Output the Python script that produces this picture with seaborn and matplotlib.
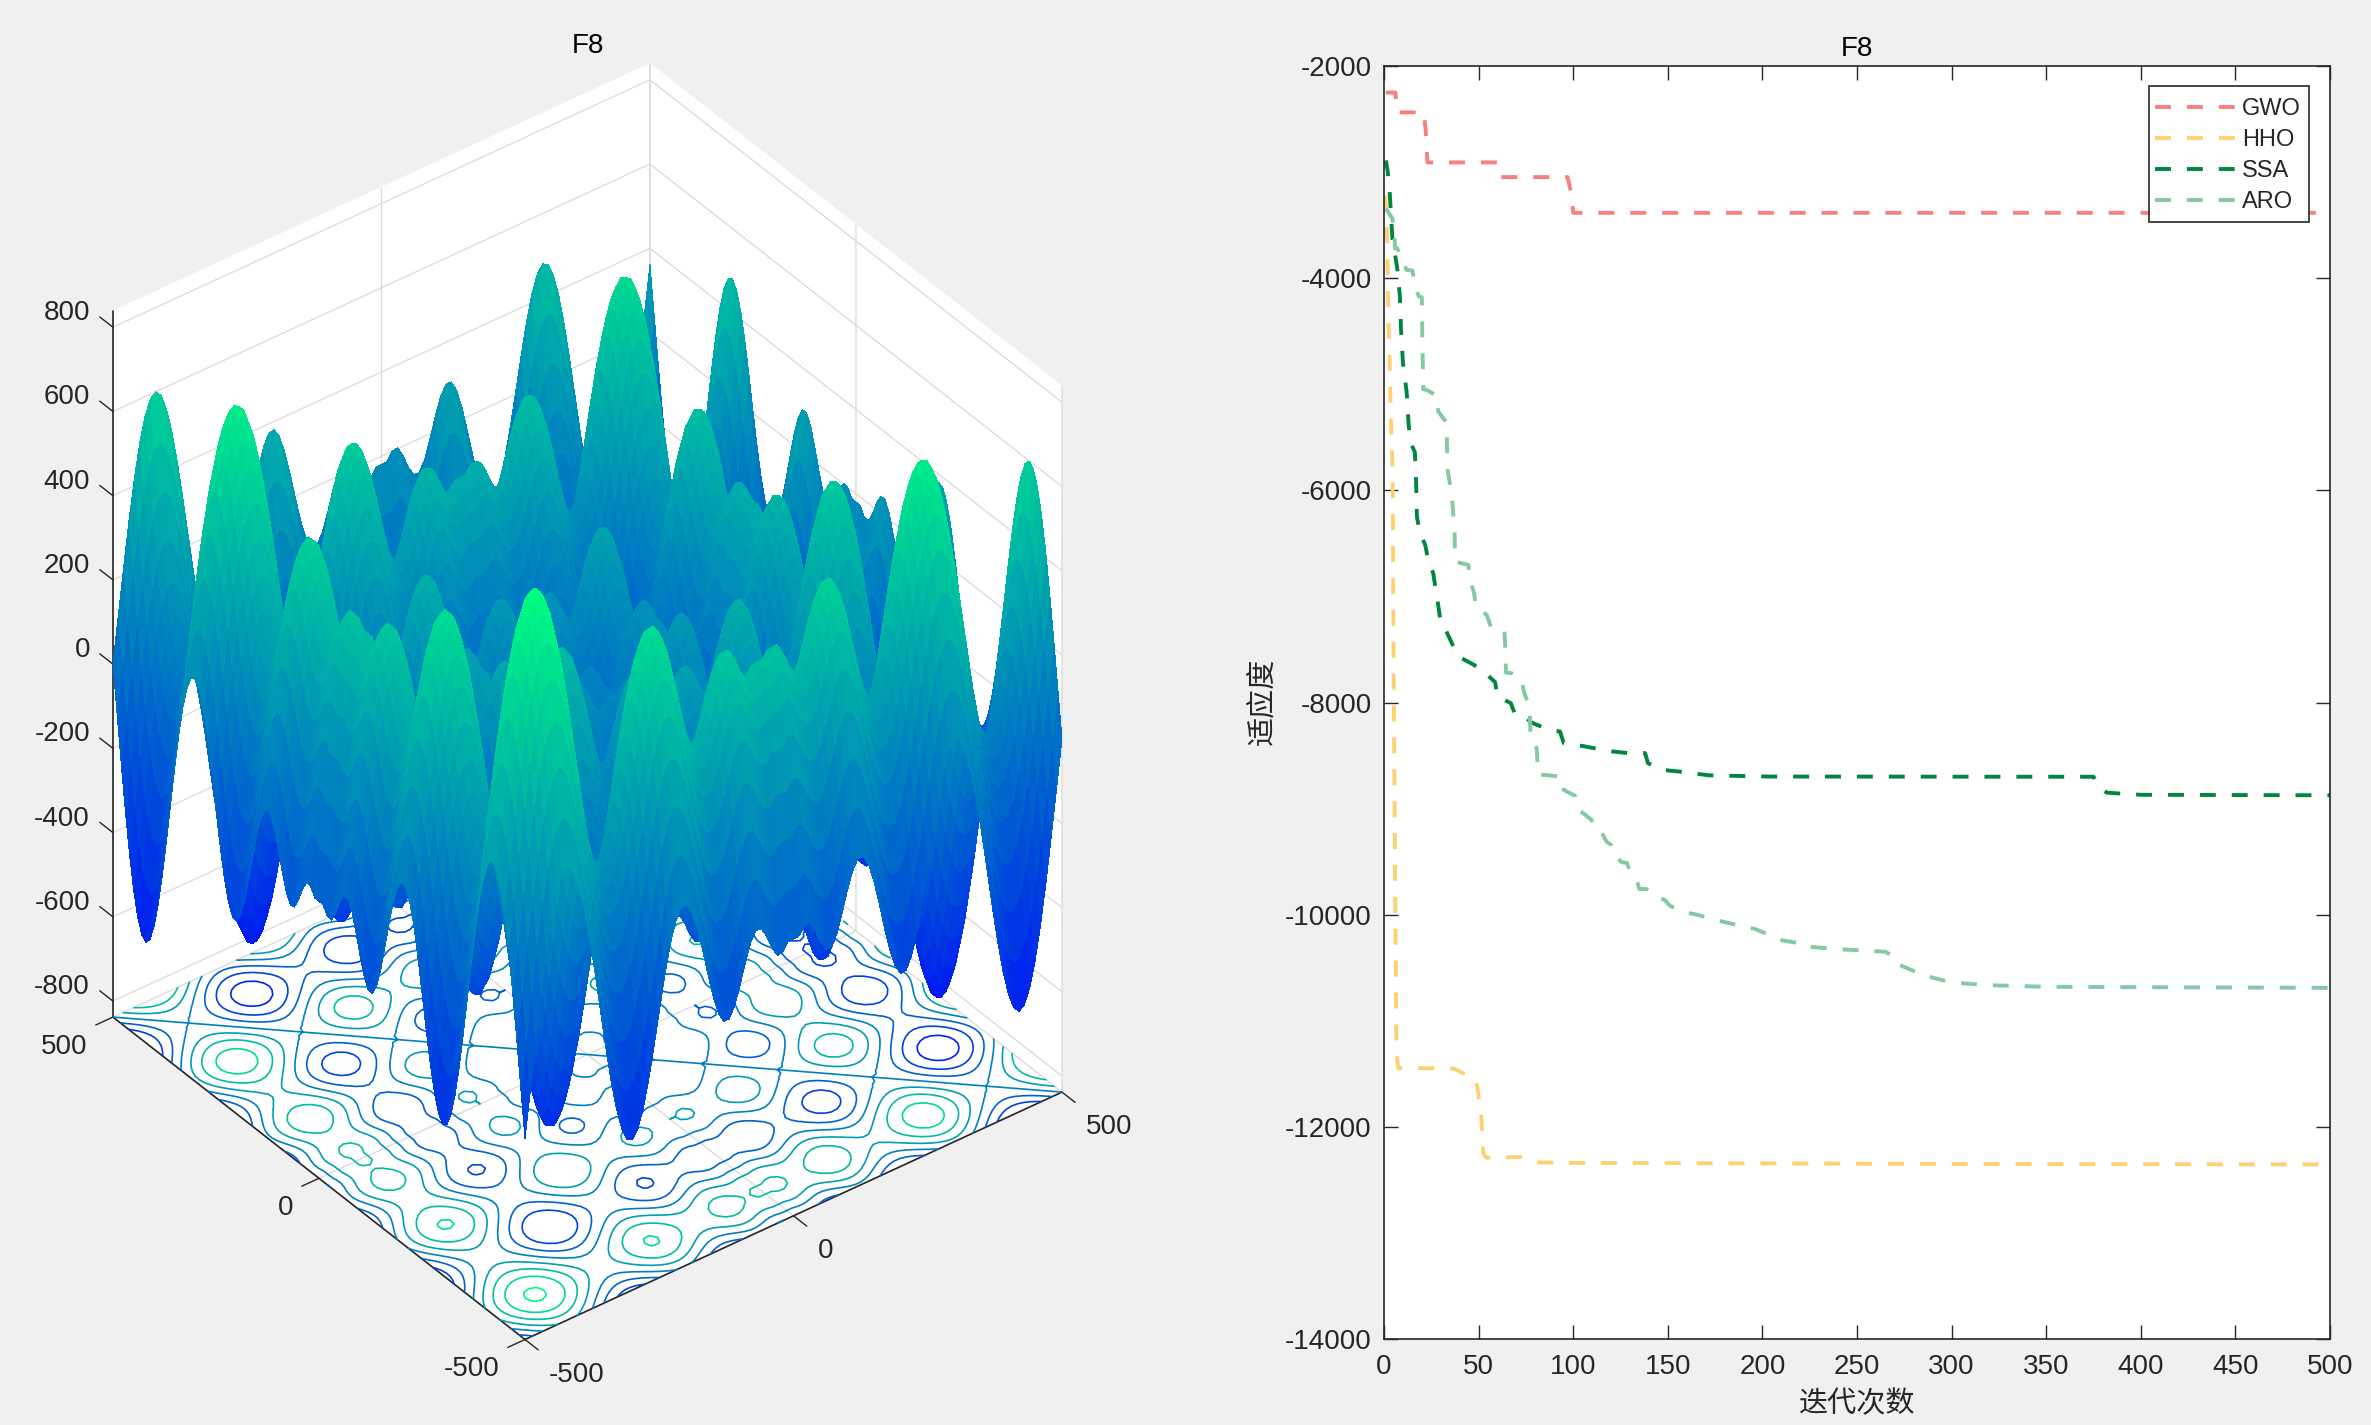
import numpy as np
import seaborn as sns
import matplotlib
matplotlib.use("Agg")
import matplotlib.pyplot as plt
from matplotlib.patches import Rectangle
from mpl_toolkits.mplot3d import proj3d

# convergence curves
gwo_x = [1, 6, 7, 10, 21, 22, 23, 60, 62, 97, 99, 100, 500]
gwo_y = [-2250, -2250, -2437, -2437, -2437, -2600, -2909, -2909, -3047, -3047, -3200, -3384, -3384]

hho_x = [0.7, 1.75, 2.1, 2.5, 3, 3.5, 4.4, 4.7, 5, 6, 6.6, 7.5, 37, 41, 45, 49, 51.3, 52.5, 54, 72.5, 80.7, 100, 300, 500]
hho_y = [-3220, -3672, -4172, -4484, -4797, -5265, -5734, -6250, -7500, -10000, -11300, -11446, -11450, -11490, -11510,
         -11583, -11870, -12250, -12290, -12285, -12335, -12340, -12350, -12355]

ssa_x = [1, 2, 3, 4.4, 7, 8.4, 9, 10, 12, 13, 14, 16.3, 17, 17.4, 19, 21.8, 23.5, 26, 28.5, 30, 33, 36.7, 40, 47.6,
         53, 58.7, 60, 67, 69, 72, 78, 85, 93, 95, 105, 112, 121, 129, 138, 139.5, 147, 155, 172, 204, 375, 378, 382, 400, 500]
ssa_y = [-2890, -3000, -3187, -3625, -3906, -4172, -4484, -4797, -5078, -5375, -5547, -5640, -5937, -6248, -6402, -6515,
         -6672, -6781, -7064, -7252, -7331, -7473, -7573, -7646, -7715, -7807, -7944, -8006, -8100, -8100, -8189, -8241,
         -8274, -8382, -8410, -8434, -8462, -8477, -8477, -8571, -8635, -8649, -8687, -8698, -8700, -8790, -8850, -8870, -8875]

aro_x = [1, 4.4, 5.6, 5.8, 7, 10.5, 11.8, 15, 17, 18.4, 20, 20.2, 20.5, 20.7, 22.5, 28, 28.6, 33, 33.2, 33.5, 35, 36,
         37.3, 37.6, 44.6, 45.5, 47.6, 48.7, 54.3, 56.4, 63.6, 64, 64.5, 67.5, 72.8, 74, 76.8, 77.2, 77.5, 80.7, 81.5,
         84.5, 93.8, 95, 101, 103, 109.7, 110.5, 114, 117.6, 120, 120.6, 125.5, 128.5, 130, 134, 135, 138.7, 145, 148.3,
         151, 158, 166, 173, 181, 188.7, 196, 203.7, 210.7, 218.6, 221, 226, 240, 265, 270, 272, 285, 300, 320, 350, 500]
aro_y = [-3344, -3437, -3610, -3719, -3719, -3853, -3922, -3928, -4109, -4172, -4181, -4484, -4797, -5047, -5053, -5109,
         -5256, -5359, -5490, -5797, -5953, -6078, -6402, -6672, -6703, -6844, -6967, -7108, -7174, -7284, -7316, -7457,
         -7718, -7724, -7787, -7902, -8038, -8180, -8337, -8431, -8682, -8682, -8698, -8824, -8880, -9012, -9106, -9154,
         -9191, -9311, -9342, -9420, -9504, -9514, -9598, -9702, -9758, -9758, -9842, -9860, -9914, -9974, -10002, -10040,
         -10074, -10106, -10134, -10190, -10243, -10267, -10300, -10305, -10325, -10350, -10400, -10470, -10570, -10640,
         -10665, -10680, -10690]

names = ['GWO', 'HHO', 'SSA', 'ARO']
colors = ['#f67f80', '#ffd072', '#00863f', '#84c9a2']
series = [(gwo_x, gwo_y), (hho_x, hho_y), (ssa_x, ssa_y), (aro_x, aro_y)]

line_ticks_x = list(range(0, 501, 50))
line_ticks_y = list(range(-14000, -1999, 2000))
surf_ticks = [-500, 0, 500]
z_ticks = list(range(-800, 801, 200))
contour_levels = list(range(-800, 801, 200))

sns.set_theme(style='white')
plt.rcParams['font.family'] = ['Liberation Sans', 'Noto Sans CJK SC']
plt.rcParams['axes.unicode_minus'] = False

W, H = 2371, 1425
fig = plt.figure(figsize=(W / 100, H / 100), dpi=100, facecolor='#f0f0f0')
dark = '#262626'
label_size = 20
winter = sns.color_palette('winter', as_cmap=True)

grid = np.arange(-500, 501, 10)
X, Y = np.meshgrid(grid, grid)
Z = -X * np.sin(np.sqrt(np.abs(X))) - Y * np.sin(np.sqrt(np.abs(Y)))
zmax = 838

ax3 = fig.add_axes([0, 0, 1, 1], projection='3d', proj_type='ortho', computed_zorder=False)
ax3.set_xlim(-500, 500)
ax3.set_ylim(-500, 500)
ax3.set_zlim(-zmax, zmax)
ax3.view_init(elev=36.9, azim=-127.5)
ax3.set_box_aspect((1, 1, 1.304))
ax3.patch.set_alpha(0)


# fit the box on the figure: front corner and right corner go to where the picture has them
def view_xy(x, y, z):
    vx, vy, _ = proj3d.proj_transform(x, y, z, ax3.get_proj())
    return ax3.transLimits.transform((vx, vy))


front = view_xy(-500, -500, -zmax)
right = view_xy(500, -500, -zmax)
side = 537 / (right[0] - front[0])
left_px = 525 - front[0] * side
bottom_px = (H - 1339.5) - front[1] * side
ax3.set_position([left_px / W, bottom_px / H, side / W, side / H])


# tick label next to a point of the box, offset in pixels
def box_label(x, y, z, text, dx, dy, ha):
    v = view_xy(x, y, z)
    fig.text((left_px + v[0] * side + dx) / W, (bottom_px + v[1] * side + dy) / H, text,
             fontsize=label_size, color=dark, ha=ha, va='center')


ax3.contour(X, Y, Z, levels=contour_levels, zdir='z', offset=-zmax, cmap=winter,
            vmin=-zmax, vmax=zmax, linewidths=1.2, zorder=1)
# flat faces, each one coloured from its first corner
face_colors = winter((Z + zmax) / (2 * zmax))
ax3.plot_surface(X, Y, Z, rstride=1, cstride=1, facecolors=face_colors,
                 linewidth=0, antialiased=False, shade=False, zorder=2)

ax3.set_xticks(surf_ticks)
ax3.set_yticks(surf_ticks)
ax3.set_zticks(z_ticks)
ax3.set_xticklabels([])
ax3.set_yticklabels([])
ax3.set_zticklabels([])
for axis in [ax3.xaxis, ax3.yaxis, ax3.zaxis]:
    axis.set_pane_color('white')
    axis.pane.set_edgecolor('white')
    axis.line.set_color(dark)
    axis.line.set_linewidth(1.2)
    axis._axinfo['grid'].update(color='#dcdcdc', linewidth=1.0)
    axis._axinfo['tick'].update(linewidth={True: 1.0, False: 1.0})
# matplotlib assumes back edges, here x and y sit on the front ones so "inward" points out of the box
ax3.xaxis._axinfo['tick'].update(inward_factor=0.4, outward_factor=0)
ax3.yaxis._axinfo['tick'].update(inward_factor=0.4, outward_factor=0)
ax3.zaxis._axinfo['tick'].update(inward_factor=0, outward_factor=0.4)
ax3.tick_params(axis='both', colors=dark)
ax3.tick_params(axis='z', colors=dark)
ax3.zaxis.set_ticks_position('upper')
ax3.zaxis._get_tickdir = lambda position: 1  # z ticks run along y

for t in surf_ticks:
    box_label(t, -500, -zmax, str(t), 24, -35, 'left')
    box_label(-500, t, -zmax, str(t), -26, -30, 'right')
for t in z_ticks:
    box_label(-500, 500, t, str(t), -23, 14, 'right')

fig.text(588 / W, 1 - 46 / H, 'F8', fontsize=label_size, color='black', ha='center', va='center')

# right: convergence curves
ax = fig.add_axes([1384 / W, 1 - 1339 / H, (2330 - 1384) / W, (1339 - 66) / H])
for name, col, (sx, sy) in zip(names, colors, series):
    sns.lineplot(x=sx, y=sy, color=col, linewidth=2.8, linestyle=(0, (4.1, 4.1)), label=name,
                 estimator=None, sort=False, errorbar=None, ax=ax)

ax.set_xlim(0, 500)
ax.set_ylim(-14000, -2000)
ax.set_xticks(line_ticks_x)
ax.set_yticks(line_ticks_y)
ax.tick_params(direction='in', length=10, width=1.0, colors=dark, labelsize=label_size,
               top=True, right=True, bottom=True, left=True, pad=9)
ax.tick_params(axis='x', pad=11)
for spine in ax.spines.values():
    spine.set_color(dark)
    spine.set_linewidth(1.2)
ax.set_title('F8', fontsize=label_size, color='black', pad=7)
fig.text(1857 / W, 1 - 1404 / H, '迭代次数', fontsize=21, color=dark, ha='center', va='center')
fig.text(1262 / W, 1 - 701 / H, '适应度', fontsize=21, color=dark, ha='center', va='center', rotation=90)

# frame is its own patch so the entries can sit where the picture has them
ax.add_patch(Rectangle((2148.5 / W, 1 - 222 / H), 160.5 / W, 136 / H, transform=fig.transFigure,
                       facecolor='white', edgecolor=dark, linewidth=1.2, zorder=4, clip_on=False))
leg = ax.legend(loc='upper right', bbox_to_anchor=(2309 / W, 1 - 90 / H), bbox_transform=fig.transFigure,
                borderaxespad=0, fontsize=17, frameon=False,
                handlelength=3.4, handletextpad=0.3, labelspacing=0.38, borderpad=0.35)
leg.set_zorder(5)

fig.savefig('out.png', dpi=100, facecolor=fig.get_facecolor())
